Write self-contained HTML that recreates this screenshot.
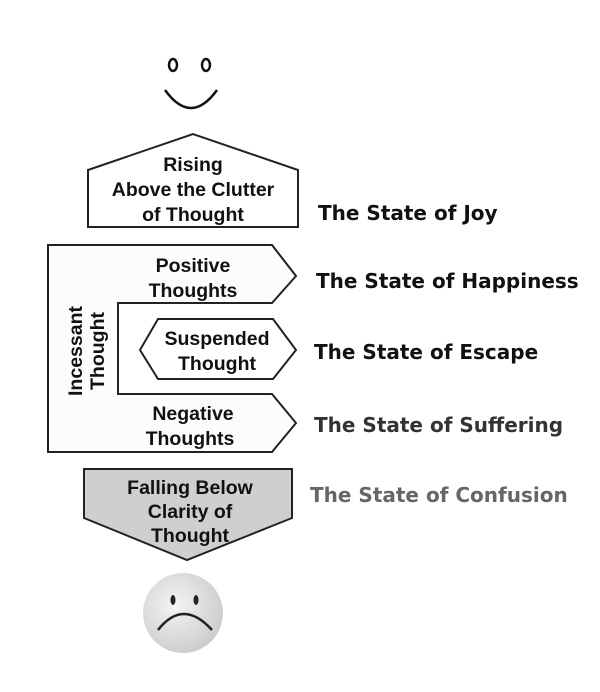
<!DOCTYPE html>
<html><head><meta charset="utf-8"><style>
html,body{margin:0;padding:0;background:#fff;width:600px;height:692px;overflow:hidden}
</style></head><body>
<svg width="600" height="692" viewBox="0 0 600 692" xmlns="http://www.w3.org/2000/svg">
<defs><radialGradient id="g" cx="0.4" cy="0.4" r="0.7"><stop offset="0" stop-color="#f4f4f4"/><stop offset="1" stop-color="#c8c8c8"/></radialGradient></defs>
<ellipse cx="173" cy="65" rx="4" ry="6" fill="none" stroke="#111" stroke-width="2.5"/>
<ellipse cx="206" cy="65" rx="4" ry="6" fill="none" stroke="#111" stroke-width="2.5"/>
<path d="M165 90 Q191 126 217 90" fill="none" stroke="#111" stroke-width="2.5"/>
<g fill="none" stroke="#222" stroke-width="2">
<polygon points="88,170 193,134 298,170 298,227 88,227" fill="#fff"/>
<path d="M48 245 L272 245 L296 276 L272 303 L118 303 L118 394 L272 394 L296 423 L272 452 L48 452 Z" fill="#fcfcfc"/>
<polygon points="140,350 158,319 273,319 296,350 273,379 158,379" fill="#fff"/>
<polygon points="84,469 292,469 292,518 187,560 84,518" fill="#cfcfcf"/>
</g>
<g font-family="Liberation Sans, sans-serif" font-weight="bold" font-size="19.5" fill="#111" text-anchor="middle">
<text x="193" y="171">Rising</text>
<text x="193" y="196">Above the Clutter</text>
<text x="193" y="221">of Thought</text>
<text x="193" y="272">Positive</text>
<text x="193" y="297">Thoughts</text>
<text x="217" y="345">Suspended</text>
<text x="217" y="370">Thought</text>
<text x="193" y="420">Negative</text>
<text x="190" y="445">Thoughts</text>
<text x="190" y="494">Falling Below</text>
<text x="190" y="518">Clarity of</text>
<text x="190" y="542">Thought</text>
<text transform="translate(82,351) rotate(-90)">Incessant</text>
<text transform="translate(104,351) rotate(-90)">Thought</text>
</g>
<g font-family="DejaVu Sans, sans-serif" font-size="20" font-weight="bold" fill="#111">
<text x="318" y="220">The State of Joy</text>
<text x="316" y="288">The State of Happiness</text>
<text x="314" y="359">The State of Escape</text>
<text x="314" y="432" fill="#333">The State of Suffering</text>
<text x="310" y="502" fill="#666">The State of Confusion</text>
</g>
<circle cx="183" cy="613" r="40" fill="url(#g)"/>
<ellipse cx="173" cy="600" rx="2.5" ry="5" fill="#222"/>
<ellipse cx="196" cy="600" rx="2.5" ry="5" fill="#222"/>
<path d="M158 630 Q183 598 212 630" fill="none" stroke="#222" stroke-width="2.5"/>
</svg>
</body></html>
